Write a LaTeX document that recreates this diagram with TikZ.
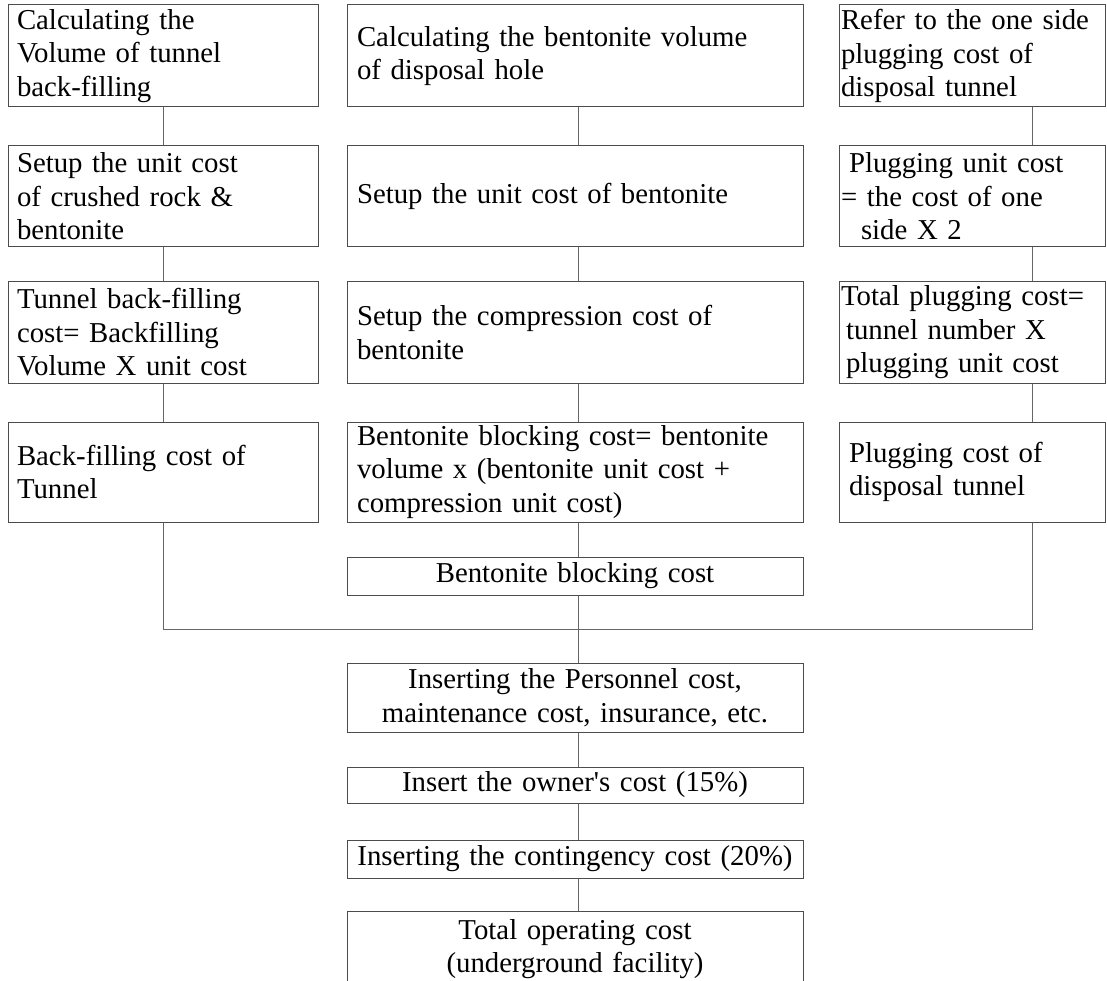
\documentclass[tikz,border=0pt]{standalone}
\usepackage{fontspec}
\setmainfont{Liberation Serif}
\begin{document}
\begin{tikzpicture}[x=1pt,y=-1pt,
  box/.style={draw=black!70, line width=1pt, rectangle, inner ysep=0pt,
    font=\fontsize{28.8}{33.5}\selectfont},
  lbox/.style={box, align=left, text width=292pt, inner xsep=9pt},
  mbox/.style={box, align=left, text width=436pt, inner xsep=10pt},
  cbox/.style={box, align=center, text width=440pt, inner xsep=8pt},
  rbox/.style={box, align=left, text width=262pt, inner xsep=2pt},
  conn/.style={draw=black!60, line width=1pt}]
\useasboundingbox (0,0) rectangle (1107,981);
\clip (0,0) rectangle (1107,981);

% left column
\node[lbox, minimum height=102pt] (l1) at (163,56) {Calculating the\\Volume of tunnel\\back-filling};
\node[lbox, minimum height=101pt] (l2) at (163,196.5) {Setup the unit cost\\of crushed rock \&\\bentonite};
\node[lbox, minimum height=101pt] (l3) at (163,332.5) {Tunnel back-filling\\cost= Backfilling\\Volume X unit cost};
\node[lbox, minimum height=100pt] (l4) at (163,472) {Back-filling cost of\\Tunnel};

% middle column
\node[mbox, minimum height=102pt] (m1) at (575,56) {Calculating the bentonite volume\\of disposal hole};
\node[mbox, minimum height=101pt] (m2) at (575,196.5) {Setup the unit cost of bentonite};
\node[mbox, minimum height=101pt] (m3) at (575,332.5) {Setup the compression cost of\\bentonite};
\node[mbox, minimum height=100pt] (m4) at (575,472) {Bentonite blocking cost= bentonite\\volume x (bentonite unit cost +\\compression unit cost)};
\node[cbox, minimum height=38pt] (m5) at (575,576) {Bentonite blocking cost};

% right column
\node[rbox, minimum height=102pt] (r1) at (972,56) {Refer to the one side\\plugging cost of\\disposal tunnel};
\node[rbox, minimum height=101pt] (r2) at (972,196.5) {\hspace*{8pt}Plugging unit cost\\= the cost of one\\\hspace*{20pt}side X 2};
\node[rbox, minimum height=101pt] (r3) at (972,332.5) {Total plugging cost=\\\hspace*{5pt}tunnel number X\\\hspace*{5pt}plugging unit cost};
\node[rbox, minimum height=100pt] (r4) at (972,472) {\hspace*{8pt}Plugging cost of\\\hspace*{8pt}disposal tunnel};

% bottom chain
\node[cbox, minimum height=69pt] (b1) at (575,697.5) {Inserting the Personnel cost,\\maintenance cost, insurance, etc.};
\node[cbox, minimum height=36pt] (b2) at (575,785) {Insert the owner\textquotesingle s cost (15\%)};
\node[cbox, minimum height=38pt] (b3) at (575,859) {Inserting the contingency cost (20\%)};
\node[cbox, minimum height=76pt] (b4) at (575,949) {Total operating cost\\(underground facility)};

% connector coordinates
\coordinate (mx) at (578,0);
\coordinate (rx) at (1032,0);
\coordinate (jl) at (163,629);
\coordinate (jr) at (1032,629);

\draw[conn] (l1.south) -- (l2.north);
\draw[conn] (l2.south) -- (l3.north);
\draw[conn] (l3.south) -- (l4.north);
\draw[conn] (l4.south) -- (jl) -- (jr) -- (r4.south -| rx);

\draw[conn] (m1.south -| mx) -- (m2.north -| mx);
\draw[conn] (m2.south -| mx) -- (m3.north -| mx);
\draw[conn] (m3.south -| mx) -- (m4.north -| mx);
\draw[conn] (m4.south -| mx) -- (m5.north -| mx);
\draw[conn] (m5.south -| mx) -- (b1.north -| mx);

\draw[conn] (r1.south -| rx) -- (r2.north -| rx);
\draw[conn] (r2.south -| rx) -- (r3.north -| rx);
\draw[conn] (r3.south -| rx) -- (r4.north -| rx);

\draw[conn] (b1.south -| mx) -- (b2.north -| mx);
\draw[conn] (b2.south -| mx) -- (b3.north -| mx);
\draw[conn] (b3.south -| mx) -- (b4.north -| mx);
\end{tikzpicture}
\end{document}
